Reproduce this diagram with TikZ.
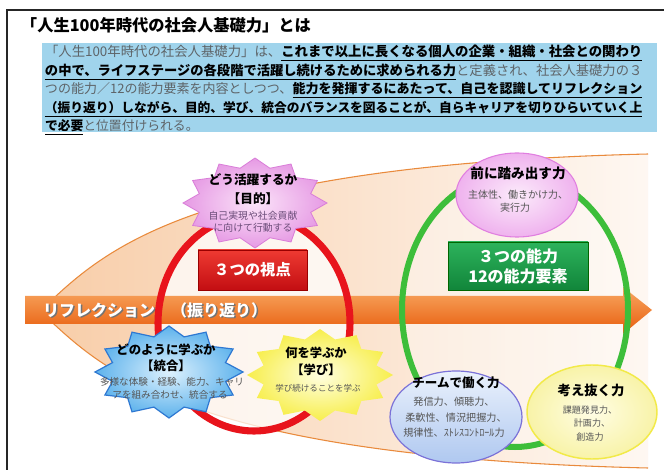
\documentclass[tikz,border=0pt]{standalone}
\usepackage{fontspec}
\usepackage{graphicx}
\setmainfont{Noto Sans CJK JP}
\usetikzlibrary{shapes.geometric}
\definecolor{peach}{HTML}{F8CDA8}
\definecolor{edgeorange}{HTML}{E98A3C}
\definecolor{boxblue}{HTML}{A0D4EC}
\definecolor{txtgray}{HTML}{5E6468}
\definecolor{arrowtop}{HTML}{F8A862}
\definecolor{arrowbot}{HTML}{E85C0C}
\definecolor{redc}{HTML}{E8141C}
\definecolor{greenc}{HTML}{3DBE3A}
\definecolor{redtop}{HTML}{EE3A32}
\definecolor{redbot}{HTML}{C30E12}
\definecolor{greentop}{HTML}{2DB35C}
\definecolor{greenbot}{HTML}{11853A}
\definecolor{pinkin}{HTML}{FBE4F9}
\definecolor{pinkout}{HTML}{E69AE4}
\definecolor{pinkedge}{HTML}{D97CD8}
\definecolor{bluein}{HTML}{DDF1FD}
\definecolor{blueout}{HTML}{5DB2EC}
\definecolor{blueedge}{HTML}{2E78D2}
\definecolor{yelin}{HTML}{FFFFE0}
\definecolor{yelout}{HTML}{F7EE4C}
\definecolor{elpin}{HTML}{FCEBFB}
\definecolor{elpout}{HTML}{EFB2EE}
\definecolor{elpedge}{HTML}{E07EE0}
\definecolor{elbtop}{HTML}{EAF1FC}
\definecolor{elbbot}{HTML}{AFC8F0}
\definecolor{elbedge}{HTML}{7B72D8}
\definecolor{elyin}{HTML}{FFFDE4}
\definecolor{elyout}{HTML}{F8F3A8}
\definecolor{elyedge}{HTML}{F2EA48}
\definecolor{smallgray}{HTML}{555555}
\definecolor{smallpurple}{HTML}{6A4C78}
\newcommand\gtxt[1]{{\color{txtgray}#1}}
\newcommand\btxt[1]{\underline{\textbf{#1}}}
% star: cx, cy, rx, ry, ratio, style
\newcommand\mystar[6]{%
  \path[#6] plot[domain=0:24, samples=25, variable=\k]
    ({#1+#3*(1-(1-#5)*mod(\k,2))*sin(\k*15)}, {#2-#4*(1-(1-#5)*mod(\k,2))*cos(\k*15)}) -- cycle;}
\tikzset{
  line/.style={anchor=base west, font=\fontsize{9.6}{11}\selectfont},
  hd/.style={font=\bfseries\fontsize{#1}{#1}\selectfont, text=black},
  sm/.style={font=\fontsize{#1}{#1}\selectfont, text=smallgray},
}
\begin{document}
\begin{tikzpicture}[x=0.75pt, y=-0.75pt, every node/.style={inner sep=0pt, outer sep=0pt}]
\useasboundingbox (0,0) rectangle (664,470);
\fill[white] (0,0) rectangle (664,470);
% frame
\draw[line width=1.5pt, black!85] (7,470) -- (7,10) -- (664,10);
% title
\node[anchor=west, hd=12.2] (title) at (21,25) {「人生100年時代の社会人基礎力」とは};
% description box
\fill[boxblue] (42,43) rectangle (657,132);
\node[line] (l1) at (45,57) {\resizebox{448pt}{!}{\gtxt{「人生100年時代の社会人基礎力」は、}\btxt{これまで以上に長くなる個人の企業・組織・社会との関わり}}};
\node[line] (l2) at (45,75.5) {\resizebox{448pt}{!}{\btxt{の中で、ライフステージの各段階で活躍し続けるために求められる力}\gtxt{と定義され、社会人基礎力の３}}};
\node[line] (l3) at (45,94) {\resizebox{448pt}{!}{\gtxt{つの能力／12の能力要素を内容としつつ、}\btxt{能力を発揮するにあたって、自己を認識してリフレクション}}};
\node[line] (l4) at (45,112.5) {\resizebox{448pt}{!}{\btxt{（振り返り）しながら、目的、学び、統合のバランスを図ることが、自らキャリアを切りひらいていく上}}};
\node[line] (l5) at (45,131) {\btxt{で必要}\gtxt{と位置付けられる。}};
% wedge
\shade[left color=peach, right color=peach!15!white]
  (40,311) .. controls (100,255) and (180,165) .. (648,154) -- (648,468)
  .. controls (180,457) and (100,367) .. (40,311) -- cycle;
\draw[edgeorange, line width=0.8pt] (40,311) .. controls (100,255) and (180,165) .. (648,154);
\draw[edgeorange, line width=0.8pt] (40,311) .. controls (100,367) and (180,457) .. (648,468);
% circle interiors
\fill[white, opacity=0.75] (254,323) ellipse [x radius=96, y radius=108];
\fill[white, opacity=0.3] (515,310) ellipse [x radius=113, y radius=137];
% reflection arrow
\shade[top color=arrowtop, bottom color=arrowbot]
  (25,296) -- (623,296) -- (623,287) -- (652,310) -- (623,334) -- (623,324) -- (25,324) -- cycle;
\node[anchor=west, font=\bfseries\fontsize{12}{12}\selectfont, text=black!55] (refsh) at (44.5,311.5) {リフレクション　（振り返り）};
\node[anchor=west, font=\bfseries\fontsize{12}{12}\selectfont, text=white] (ref) at (43,310) {リフレクション　（振り返り）};
% circles
\draw[redc, line width=5.3pt] (254,323) ellipse [x radius=96, y radius=108];
\draw[greenc, line width=4.5pt] (515,310) ellipse [x radius=113, y radius=137];
% boxes
\node[shade, top color=redtop, bottom color=redbot, draw=red!60!black, line width=0.4pt,
  minimum width=81.75pt, minimum height=30pt, text=white, font=\bfseries\fontsize{11.5}{11.5}\selectfont]
  (viewpoints) at (252.5,270) {３つの視点};
\node[shade, top color=greentop, bottom color=greenbot, draw=green!40!black, line width=0.4pt,
  minimum width=105pt, minimum height=36pt, text=white, align=center,
  font=\bfseries\fontsize{12}{15}\selectfont]
  (abilities) at (518,266) {３つの能力\\12の能力要素};
% stars
\mystar{255}{203}{72}{45}{0.8}{shade, inner color=pinkin, outer color=pinkout, draw=pinkedge, line width=0.6pt}
\mystar{169}{372}{74}{46}{0.79}{shade, inner color=bluein, outer color=blueout, draw=blueedge, line width=0.9pt}
\mystar{320}{375}{73}{46}{0.8}{shade, inner color=yelin, outer color=yelout}
% ellipses
\node[ellipse, shade, inner color=elpin, outer color=elpout, draw=elpedge, line width=0.8pt,
  minimum width=91.5pt, minimum height=63pt] (mae) at (517,195) {};
\node[ellipse, shade, top color=elbtop, bottom color=elbbot, draw=elbedge, line width=0.9pt,
  minimum width=99pt, minimum height=69pt] (team) at (456,417) {};
\node[ellipse, shade, inner color=elyin, outer color=elyout, draw=elyedge, line width=1.1pt,
  minimum width=97.5pt, minimum height=70.5pt] (kangae) at (592,412) {};
% star texts
\node[hd=9.5] (mok1) at (253,180) {どう活躍するか};
\node[hd=9.5] (mok2) at (253,199) {【目的】};
\node[sm=7.4, text=smallpurple] (mok3) at (253,216) {自己実現や社会貢献};
\node[sm=7.4, text=smallpurple] (mok4) at (253,227.5) {に向けて行動する};
\node[hd=9.3] (tou1) at (166,350) {どのように学ぶか};
\node[hd=9.3] (tou2) at (166,366) {【統合】};
\node[sm=7.2] (tou3) at (172,382) {多様な体験・経験、能力、キャリ};
\node[sm=7.2] (tou4) at (170,395) {アを組み合わせ、統合する};
\node[hd=9.2] (man1) at (316,353) {何を学ぶか};
\node[hd=9.2] (man2) at (316,370) {【学び】};
\node[sm=6.4] (man3) at (318,388) {学び続けることを学ぶ};
% ellipse texts
\node[hd=10.2] (mae1) at (518,173) {前に踏み出す力};
\node[sm=7.5] (mae2) at (518,195) {主体性、働きかけ力、};
\node[sm=7.5] (mae3) at (515,208) {実行力};
\node[hd=9.4] (team1) at (456,383) {チームで働く力};
\node[sm=7.6] (team2) at (454,402) {発信力、傾聴力、};
\node[sm=7.6] (team3) at (456,418) {柔軟性、情況把握力、};
\node[sm=7.6] (team4) at (454,433) {規律性、ｽﾄﾚｽｺﾝﾄﾛｰﾙ力};
\node[hd=10] (kan1) at (591,390) {考え抜く力};
\node[sm=6.8] (kan2) at (590,410) {課題発見力、};
\node[sm=6.8] (kan3) at (592,423) {計画力、};
\node[sm=6.8] (kan4) at (590,437) {創造力};
\end{tikzpicture}
\end{document}
